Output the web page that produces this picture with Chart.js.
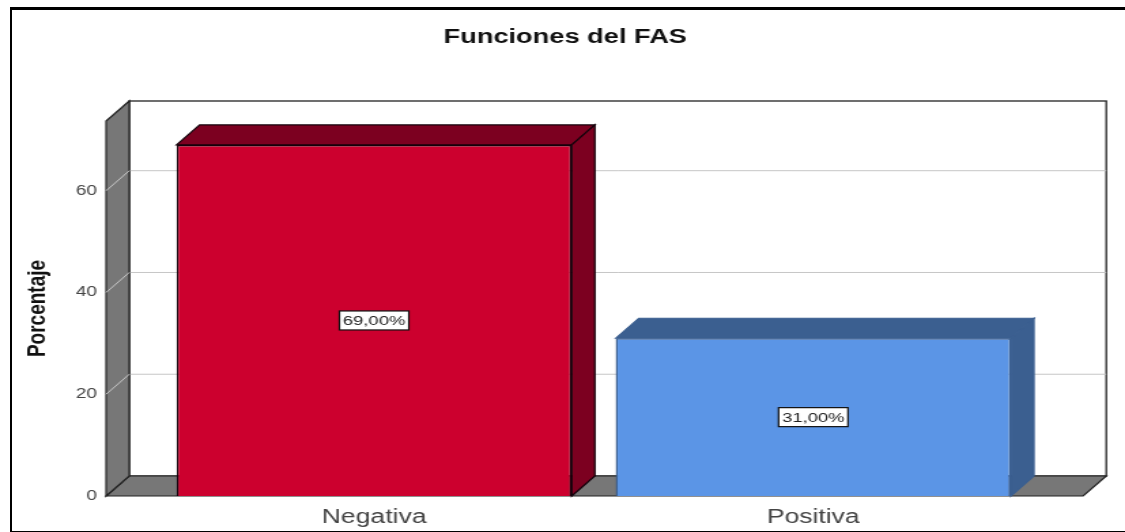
<!DOCTYPE html>
<html>
<head>
<meta charset="utf-8">
<script src="https://cdn.jsdelivr.net/npm/chart.js@4"></script>
<style>
  html, body { margin: 0; padding: 0; background: #fff; overflow: hidden; }
  /* la imagen original esta estirada a lo ancho, asi que estiramos igual */
  #stretch { position: absolute; left: 0; top: 0; width: 827px; height: 532px; transform: scaleX(1.3604); transform-origin: 0 0; filter: blur(0.4px); }
  #stretch canvas { display: block; }
  #frame { position: absolute; left: 10px; top: 7px; width: 1125px; height: 521px; border-left: 2px solid #000; border-top: 3px solid #000; border-bottom: 2px solid #000; pointer-events: none; }
</style>
</head>
<body>
<div id="stretch"><canvas id="barChart" width="827" height="532"></canvas></div>
<div id="frame"></div>
<script>
const categories = ['Negativa', 'Positiva'];
const percentages = [69, 31];
const yTicks = [0, 20, 40, 60];
const frontColors = ['#cc002e', '#5b95e6'];
const sideColors = ['#7c0020', '#3b5f90'];
const edgeColors = ['#14000a', '#3b5f90'];

const DEPTH_X = 17;
const DEPTH_Y = 20;
const WALL_LEFT = 35.6;   // cuanto sobresale la pared a la izquierda del area
const FLOOR_RIGHT = 37;   // cuanto sobresale el suelo a la derecha

function fillPoly(ctx, pts, fill, stroke, lw) {
    ctx.beginPath();
    pts.forEach((p, i) => i ? ctx.lineTo(p[0], p[1]) : ctx.moveTo(p[0], p[1]));
    ctx.closePath();
    ctx.fillStyle = fill;
    ctx.fill();
    if (stroke) {
        ctx.strokeStyle = stroke;
        ctx.lineWidth = lw || 1;
        ctx.stroke();
    }
}

// paredes, suelo y caras laterales de las barras
const box3d = {
    id: 'box3d',
    beforeDatasetsDraw(chart) {
        const ctx = chart.ctx;
        const area = chart.chartArea;
        const y = chart.scales.y;
        const x0 = area.left - WALL_LEFT;
        const x1 = area.right + FLOOR_RIGHT;
        const bx0 = x0 + DEPTH_X;
        const bx1 = x1 + DEPTH_X;
        const bottom = y.getPixelForValue(0);
        const top = area.top;
        ctx.save();

        // pared del fondo
        ctx.strokeStyle = '#222';
        ctx.lineWidth = 1.3;
        ctx.strokeRect(bx0, top - DEPTH_Y, bx1 - bx0, bottom - top);

        // rejilla
        ctx.strokeStyle = '#c6c6c6';
        ctx.lineWidth = 1;
        yTicks.slice(1).forEach(v => {
            const py = y.getPixelForValue(v);
            ctx.beginPath();
            ctx.moveTo(bx0, py - DEPTH_Y);
            ctx.lineTo(bx1, py - DEPTH_Y);
            ctx.stroke();
        });

        // suelo y pared izquierda
        fillPoly(ctx, [[x0, bottom], [x1, bottom], [bx1, bottom - DEPTH_Y], [bx0, bottom - DEPTH_Y]], '#777777', '#222', 1.2);
        fillPoly(ctx, [[x0, top], [bx0, top - DEPTH_Y], [bx0, bottom - DEPTH_Y], [x0, bottom]], '#777777', '#222', 1.2);

        // lineas de la rejilla sobre la pared izquierda
        ctx.strokeStyle = '#c6c6c6';
        ctx.lineWidth = 1;
        yTicks.slice(1).forEach(v => {
            const py = y.getPixelForValue(v);
            ctx.beginPath();
            ctx.moveTo(x0, py);
            ctx.lineTo(bx0, py - DEPTH_Y);
            ctx.stroke();
        });

        // tapa y lado de cada barra
        chart.getDatasetMeta(0).data.forEach((bar, i) => {
            const l = bar.x - bar.width / 2;
            const r = bar.x + bar.width / 2;
            fillPoly(ctx, [[l, bar.y], [l + DEPTH_X, bar.y - DEPTH_Y], [r + DEPTH_X, bar.y - DEPTH_Y], [r, bar.y]], sideColors[i], edgeColors[i], 1.2);
            fillPoly(ctx, [[r, bar.y], [r + DEPTH_X, bar.y - DEPTH_Y], [r + DEPTH_X, bar.base - DEPTH_Y], [r, bar.base]], sideColors[i], edgeColors[i], 1.2);
        });
        ctx.restore();
    },
    afterDatasetsDraw(chart) {
        const ctx = chart.ctx;
        ctx.save();
        ctx.font = '13.5px "Liberation Sans"';
        ctx.textAlign = 'center';
        ctx.textBaseline = 'middle';
        chart.getDatasetMeta(0).data.forEach((bar, i) => {
            const cy = (bar.y + bar.base) / 2;
            const text = percentages[i].toFixed(2).replace('.', ',') + '%';
            ctx.fillStyle = '#fff';
            ctx.fillRect(bar.x - 25.5, cy - 9.5, 51, 19);
            ctx.strokeStyle = '#111';
            ctx.lineWidth = 1.2;
            ctx.strokeRect(bar.x - 25.5, cy - 9.5, 51, 19);
            ctx.fillStyle = '#222';
            ctx.fillText(text, bar.x, cy + 1);
        });
        ctx.restore();
    }
};

new Chart(document.getElementById('barChart'), {
    type: 'bar',
    data: {
        labels: categories,
        datasets: [{
            data: percentages,
            backgroundColor: frontColors,
            borderColor: edgeColors,
            borderWidth: 1.5,
            categoryPercentage: 1,
            barPercentage: 0.9
        }]
    },
    options: {
        responsive: false,
        animation: false,
        layout: { padding: { left: 4, right: 0, top: 0, bottom: 0 } },
        plugins: {
            legend: { display: false },
            tooltip: { enabled: false },
            title: {
                display: true,
                text: 'Funciones del FAS',
                color: '#111',
                font: { family: '"Liberation Sans"', size: 20, weight: 'bold' },
                padding: { top: 25, bottom: 72 }
            }
        },
        scales: {
            x: {
                afterFit: s => { s.height = 36; },
                grid: { display: false, drawTicks: false },
                border: { display: false },
                ticks: { color: '#444', padding: 10, font: { family: '"Liberation Sans"', size: 19.5 }, maxRotation: 0 }
            },
            y: {
                min: 0,
                max: 73.7,
                // el padding grande de los ticks no debe comerse el alto del area
                afterFit: s => { s.width = 109.6; s.paddingTop = 0; s.paddingBottom = 0; },
                afterBuildTicks: s => { s.ticks = yTicks.map(v => ({ value: v })); },
                grid: { display: false, drawTicks: false },
                border: { display: false },
                title: {
                    display: true,
                    text: 'Porcentaje',
                    color: '#111',
                    font: { family: '"Liberation Sans"', size: 19, weight: 'bold' },
                    padding: { top: 12, bottom: 0 }
                },
                ticks: { color: '#444', padding: 42.3, font: { family: '"Liberation Sans"', size: 14 } }
            },
            // eje vacio: solo reserva el margen derecho sin descentrar el titulo
            spacer: {
                axis: 'y',
                position: 'right',
                afterFit: s => { s.width = 67.8; s.paddingTop = 0; s.paddingBottom = 0; },
                grid: { display: false, drawTicks: false },
                border: { display: false },
                ticks: { display: false }
            }
        }
    },
    plugins: [box3d]
});
</script>
</body>
</html>
